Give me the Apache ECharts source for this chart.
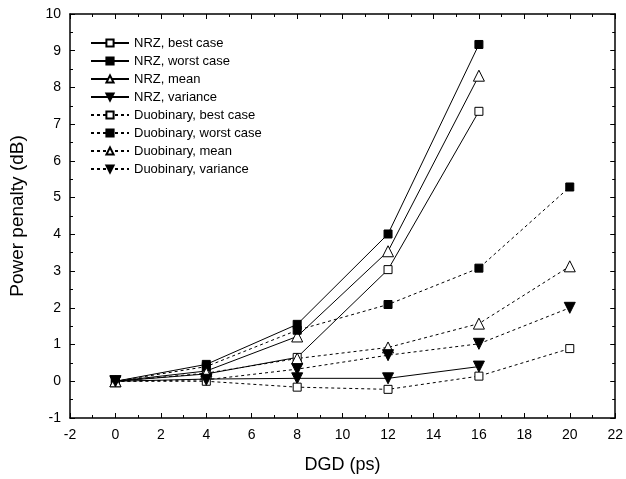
<!DOCTYPE html>
<html lang="en">
<head>
    <meta charset="utf-8" />
    <title>Power penalty vs DGD</title>
    <script type="text/javascript" src="https://cdn.jsdelivr.net/npm/echarts@6/dist/echarts.min.js"></script>
    <style>
        body { margin: 0; background: #fff; }
        #chart { width: 626px; height: 479px; }
    </style>
</head>
<body>
    <div id="chart"></div>
    <script type="text/javascript">
        // DGD values (ps)
        var dgdNrz = [0, 4, 8, 12, 16];
        var dgdDuo = [0, 4, 8, 12, 16, 20];

        // power penalty (dB)
        var nrzBest = [0, 0.2, 0.65, 3.04, 7.35];
        var nrzWorst = [0, 0.46, 1.55, 4.01, 9.17];
        var nrzMean = [0, 0.28, 1.22, 3.54, 8.32];
        var nrzVar = [0, 0.06, 0.08, 0.08, 0.40];
        var duoBest = [0, 0.0, -0.16, -0.22, 0.14, 0.89];
        var duoWorst = [0, 0.40, 1.39, 2.09, 3.08, 5.29];
        var duoMean = [0, 0.22, 0.62, 0.92, 1.57, 3.13];
        var duoVar = [0, 0.04, 0.33, 0.71, 1.02, 2.0];

        var xTicks = { min: -2, max: 22, interval: 2 };
        var yTicks = { min: -1, max: 10, interval: 1 };

        var chart = echarts.init(document.getElementById('chart'));

        function pairs(xs, ys) {
            var out = [];
            for (var i = 0; i < ys.length; i++) out.push([xs[i], ys[i]]);
            return out;
        }

        function mkSeries(name, xs, ys, symbol, filled, dashed, down) {
            return {
                name: name,
                type: 'line',
                data: pairs(xs, ys),
                symbol: symbol,
                symbolSize: symbol === 'rect' ? 8 : 11,
                symbolRotate: down ? 180 : 0,
                showAllSymbol: true,
                lineStyle: { color: '#000', width: 1, type: dashed ? [3, 3] : 'solid' },
                itemStyle: { color: filled ? '#000' : '#fff', borderColor: '#000', borderWidth: 1 },
                emphasis: { disabled: true },
                animation: false,
                z: 3
            };
        }

        var axisCommon = {
            type: 'value',
            axisLine: { show: true, onZero: false, lineStyle: { color: '#000', width: 1.5 } },
            axisTick: { show: true, inside: true, length: 5, lineStyle: { color: '#000' } },
            minorTick: { show: true, splitNumber: 2, length: 3, lineStyle: { color: '#000' } },
            splitLine: { show: false },
            minorSplitLine: { show: false }
        };

        function axis(base, extra) {
            return Object.assign({}, axisCommon, base, extra);
        }

        var labelFont = { color: '#000', fontSize: 14, fontFamily: 'Liberation Sans, Arial, sans-serif' };

        var option = {
            backgroundColor: '#fff',
            animation: false,
            grid: { left: 67, top: 14, right: 9, bottom: 59 },
            legend: {
                orient: 'vertical',
                left: 85,
                top: 31,
                itemWidth: 38,
                itemHeight: 9,
                itemGap: 4,
                textStyle: { color: '#000', fontSize: 13, fontFamily: 'Liberation Sans, Arial, sans-serif', lineHeight: 14 },
                data: ['NRZ, best case', 'NRZ, worst case', 'NRZ, mean', 'NRZ, variance',
                    'Duobinary, best case', 'Duobinary, worst case', 'Duobinary, mean', 'Duobinary, variance']
            },
            xAxis: [
                axis(xTicks, {
                    position: 'bottom',
                    name: 'DGD (ps)',
                    nameLocation: 'middle',
                    nameGap: 38,
                    nameTextStyle: { color: '#000', fontSize: 18, fontFamily: 'Liberation Sans, Arial, sans-serif' },
                    axisLabel: Object.assign({ margin: 10 }, labelFont)
                }),
                axis(xTicks, { position: 'top', axisLabel: { show: false } })
            ],
            yAxis: [
                axis(yTicks, {
                    position: 'left',
                    name: 'Power penalty (dB)',
                    nameLocation: 'middle',
                    nameGap: 43,
                    nameTextStyle: { color: '#000', fontSize: 19, fontFamily: 'Liberation Sans, Arial, sans-serif' },
                    axisLabel: Object.assign({ margin: 9 }, labelFont)
                }),
                axis(yTicks, { position: 'right', axisLabel: { show: false } })
            ],
            series: [
                mkSeries('NRZ, best case', dgdNrz, nrzBest, 'rect', false, false, false),
                mkSeries('NRZ, worst case', dgdNrz, nrzWorst, 'rect', true, false, false),
                mkSeries('NRZ, mean', dgdNrz, nrzMean, 'triangle', false, false, false),
                mkSeries('NRZ, variance', dgdNrz, nrzVar, 'triangle', true, false, true),
                mkSeries('Duobinary, best case', dgdDuo, duoBest, 'rect', false, true, false),
                mkSeries('Duobinary, worst case', dgdDuo, duoWorst, 'rect', true, true, false),
                mkSeries('Duobinary, mean', dgdDuo, duoMean, 'triangle', false, true, false),
                mkSeries('Duobinary, variance', dgdDuo, duoVar, 'triangle', true, true, true)
            ]
        };

        chart.setOption(option);
    </script>
</body>
</html>
